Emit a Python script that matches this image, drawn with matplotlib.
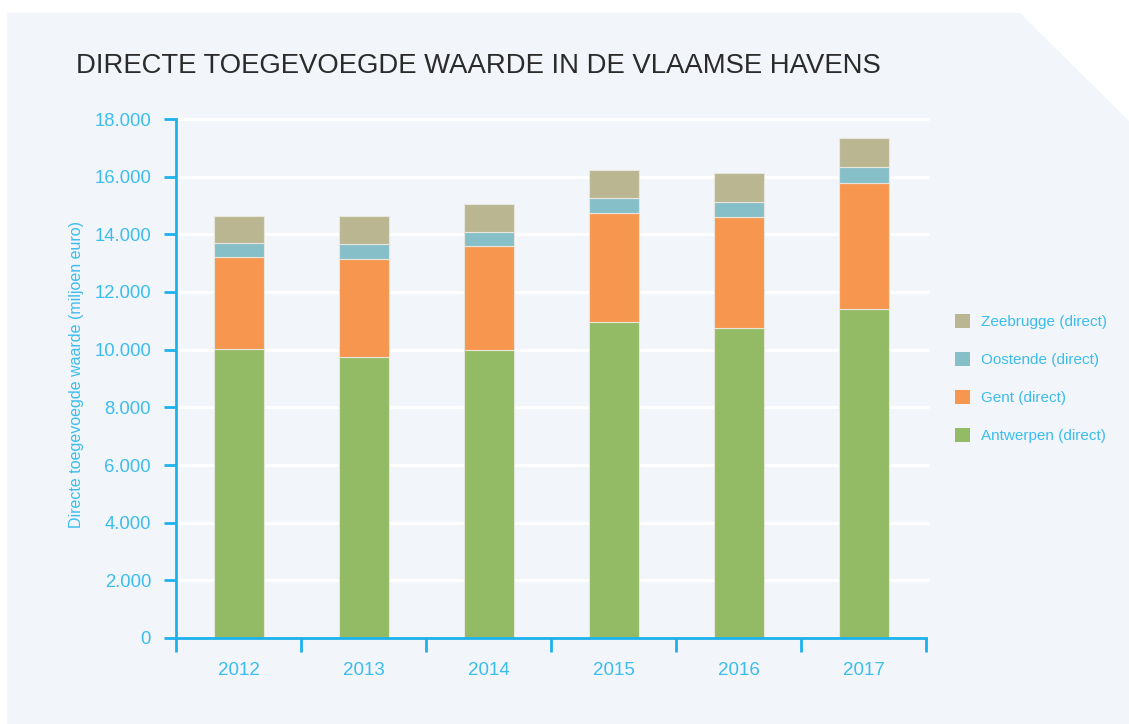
import matplotlib
matplotlib.use("Agg")
import matplotlib.pyplot as plt
from matplotlib.patches import Polygon, Patch
import numpy as np

years = ["2012", "2013", "2014", "2015", "2016", "2017"]
antwerpen = [10015, 9760, 9980, 10960, 10740, 11410]
gent = [3190, 3400, 3605, 3790, 3860, 4370]
oostende = [485, 500, 500, 500, 510, 550]
zeebrugge = [960, 975, 960, 980, 1020, 1020]
yticks = [0, 2000, 4000, 6000, 8000, 10000, 12000, 14000, 16000, 18000]
ytick_labels = ["0", "2.000", "4.000", "6.000", "8.000", "10.000", "12.000", "14.000", "16.000", "18.000"]
series_names = ["Antwerpen (direct)", "Gent (direct)", "Oostende (direct)", "Zeebrugge (direct)"]

colors = ["#93BA64", "#F7964F", "#86BFC7", "#BBB692"]
CYAN = "#1DB1EC"
TXT = "#3BBDEE"
W, H = 1129, 724

fig = plt.figure(figsize=(W / 100, H / 100), dpi=100, facecolor="white")
pts = [(7, 13), (1020, 13), (1129, 121), (1129, 724), (7, 724)]
fig.patches.append(Polygon([(x / W, 1 - y / H) for x, y in pts], closed=True,
                           transform=fig.transFigure, facecolor="#F2F5FA",
                           edgecolor="none", zorder=-5))

ax = fig.add_axes([176 / W, 1 - 638 / H, 750 / W, (638 - 119) / H])
ax.set_facecolor("none")
ax.set_zorder(2)
x = np.arange(len(years))
bottom = np.zeros(len(years))
for vals, c in zip([antwerpen, gent, oostende, zeebrugge], colors):
    ax.bar(x, vals, width=0.4, bottom=bottom, color=c, edgecolor="#E6E6DC",
           linewidth=0.8, zorder=3)
    bottom += np.array(vals)

ax.set_xlim(-0.5, len(years) - 0.5)
ax.set_ylim(0, 18000)
ax.set_yticks(yticks)
ax.set_yticklabels(ytick_labels)
for v in yticks[1:]:
    ax.plot([-0.5, len(years) - 0.48], [v, v], color="white", lw=2.2, zorder=1,
            clip_on=False, solid_capstyle="butt")

ax.set_xticks(np.arange(len(years) + 1) - 0.5)
ax.set_xticklabels([])
ax.set_xticks(x, minor=True)
ax.set_xticklabels(years, minor=True)
ax.tick_params(axis="x", which="major", direction="out", length=10, width=2, color=CYAN)
ax.tick_params(axis="x", which="minor", length=0, pad=17, labelcolor=TXT, labelsize=13.5)
ax.tick_params(axis="y", direction="out", length=9, width=2, color=CYAN,
               labelcolor=TXT, labelsize=13.3, pad=9)
for lab in ax.get_xticklabels(minor=True) + ax.get_yticklabels():
    lab.set_family(["Liberation Sans", "DejaVu Sans"])

for s in ["top", "right"]:
    ax.spines[s].set_visible(False)
for s in ["left", "bottom"]:
    ax.spines[s].set_color(CYAN)
    ax.spines[s].set_linewidth(2)
    ax.spines[s].set_zorder(4)

ax.set_ylabel("Directe toegevoegde waarde (miljoen euro)", color=TXT, fontsize=11.5,
              family=["Liberation Sans", "DejaVu Sans"], labelpad=10)
ax.yaxis.set_label_coords(-0.122, 0.507)

fig.text(76 / W, 1 - 66 / H, "DIRECTE TOEGEVOEGDE WAARDE IN DE VLAAMSE HAVENS",
         fontsize=19.8, color="#2B2B2B", va="center", ha="left",
         family=["Liberation Sans", "DejaVu Sans"])

handles = [Patch(facecolor=c, edgecolor="none") for c in colors][::-1]
labels = series_names[::-1]
leg = fig.legend(handles, labels, loc="center left", bbox_to_anchor=(941 / W, 1 - 378.5 / H),
                 frameon=False, labelcolor=TXT, handlelength=1.0, handleheight=1.0,
                 labelspacing=1.5, handletextpad=0.75,
                 prop={"family": ["Liberation Sans", "DejaVu Sans"], "size": 11})

fig.savefig("out.png", dpi=100, facecolor="white")
